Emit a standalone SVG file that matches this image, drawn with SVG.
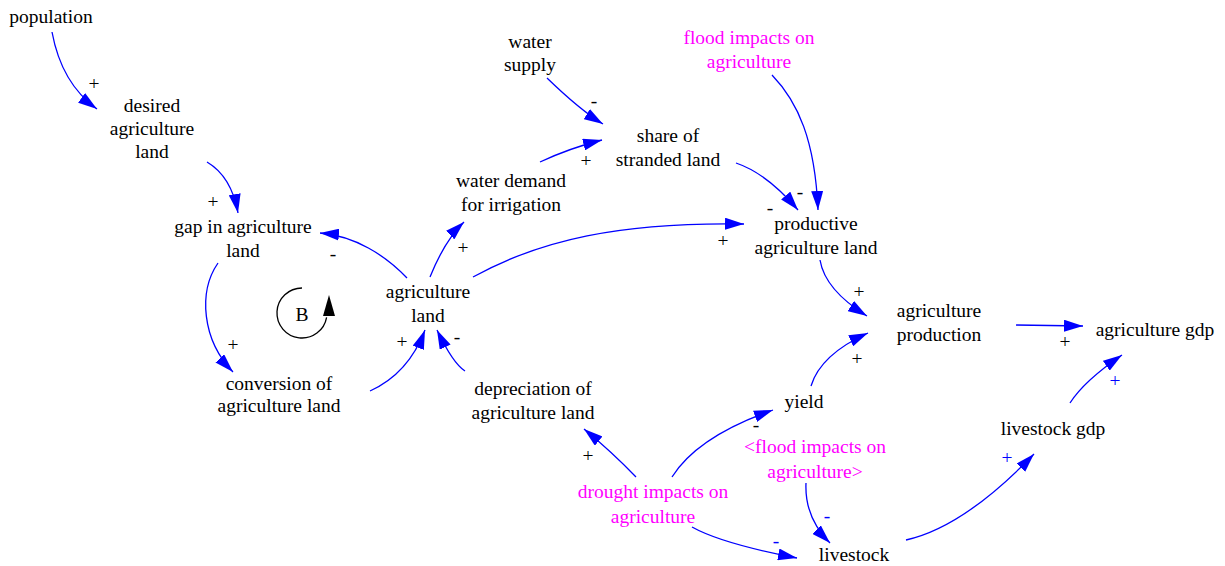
<svg xmlns="http://www.w3.org/2000/svg" width="1225" height="566" viewBox="0 0 1225 566" font-family="Liberation Serif, Times New Roman, serif">
<style>
text{font-family:'Liberation Serif','Times New Roman',Times,serif}
.t{font-size:19.5px;text-anchor:middle;fill:#000}
.m{fill:#ff00ff}
.b{fill:#0000ff}
.c{fill:none;stroke:#0000ff;stroke-width:1.3;marker-end:url(#ah)}
</style>
<defs>
<marker id="ah" markerWidth="20" markerHeight="12" refX="19" refY="6" orient="auto" markerUnits="userSpaceOnUse">
<path d="M0,0 L19,6 L0,12 z" fill="#0000ff"/>
</marker>
</defs>
<rect width="1225" height="566" fill="#fff"/>
<g id="connectors">
<path class="c" d="M52,32 Q61.5,83.5 97,109"/>
<path class="c" d="M207,162 Q231.5,176.5 238,213"/>
<path class="c" d="M218,263 C198,292 202,340 233,372"/>
<path class="c" d="M407,278 C385,255 355,236 320,233"/>
<path class="c" d="M430,277 Q445,240 464,222"/>
<path class="c" d="M473,277 C540,240 620,222 744,224"/>
<path class="c" d="M540,162 Q570,148 602,140"/>
<path class="c" d="M547,78 Q580,110 603,124"/>
<path class="c" d="M736,163 Q767,173.5 798,210"/>
<path class="c" d="M772,75 C798,102 815,140 818,210"/>
<path class="c" d="M820,260 Q825,290 867,316"/>
<path class="c" d="M811,386 Q820.5,354.5 868,333"/>
<path class="c" d="M1016,325 L1083,326"/>
<path class="c" d="M1070,403 Q1084,381 1122,355"/>
<path class="c" d="M906,540 Q964,527 1034,454"/>
<path class="c" d="M692,527 Q721.5,543.5 797,558"/>
<path class="c" d="M806,483 C805,505 812,525 830,543"/>
<path class="c" d="M636,477 Q612,452 584,429"/>
<path class="c" d="M672,477 Q697.5,436.5 773,410"/>
<path class="c" d="M370,391 Q408.5,373.5 425,330"/>
<path class="c" d="M465,371 Q453,363.5 437,330"/>
<g class="t">
<text x="94" y="90">+</text>
<text x="213" y="208">+</text>
<text x="233" y="351">+</text>
<text x="333" y="260">-</text>
<text x="463" y="254">+</text>
<text x="723" y="247">+</text>
<text x="586" y="167">+</text>
<text x="594" y="107">-</text>
<text x="770" y="214">-</text>
<text x="800" y="198">-</text>
<text x="859" y="298">+</text>
<text x="857" y="365">+</text>
<text x="1065" y="348">+</text>
<text x="1115" y="387" class="b">+</text>
<text x="1007" y="464" class="b">+</text>
<text x="776" y="547" class="b">-</text>
<text x="827" y="522" class="b">-</text>
<text x="588" y="462">+</text>
<text x="756" y="431">-</text>
<text x="402" y="348">+</text>
<text x="457" y="343">-</text>
</g>
</g>
<g id="loop-B">
<path d="M302,288 A25,25 0 1 0 326.6,317.3" fill="none" stroke="#000" stroke-width="1.3"/>
<path d="M329,295 L335,316 L323,316 z" fill="#000"/>
<text class="t" x="302" y="321">B</text>
</g>
<g id="population"><text class="t" x="51" y="23">population</text></g>
<g id="desired-agriculture-land"><text class="t" x="152" y="112">desired<tspan x="152" dy="23">agriculture</tspan><tspan x="152" dy="23">land</tspan></text></g>
<g id="gap-in-agriculture-land"><text class="t" x="243" y="233">gap in agriculture<tspan x="243" dy="24">land</tspan></text></g>
<g id="agriculture-land"><text class="t" x="428" y="298">agriculture<tspan x="428" dy="24">land</tspan></text></g>
<g id="conversion-of-agriculture-land"><text class="t" x="279" y="390">conversion of<tspan x="279" dy="22">agriculture land</tspan></text></g>
<g id="water-demand-for-irrigation"><text class="t" x="511" y="187">water demand<tspan x="511" dy="24">for irrigation</tspan></text></g>
<g id="water-supply"><text class="t" x="530" y="48">water<tspan x="530" dy="23">supply</tspan></text></g>
<g id="share-of-stranded-land"><text class="t" x="668" y="142">share of<tspan x="668" dy="24">stranded land</tspan></text></g>
<g id="flood-impacts-on-agriculture"><text class="t m" x="749" y="44">flood impacts on<tspan x="749" dy="24">agriculture</tspan></text></g>
<g id="productive-agriculture-land"><text class="t" x="816" y="230">productive<tspan x="816" dy="24">agriculture land</tspan></text></g>
<g id="agriculture-production"><text class="t" x="939" y="317">agriculture<tspan x="939" dy="24">production</tspan></text></g>
<g id="agriculture-gdp"><text class="t" x="1155" y="336">agriculture gdp</text></g>
<g id="depreciation-of-agriculture-land"><text class="t" x="533" y="395">depreciation of<tspan x="533" dy="24">agriculture land</tspan></text></g>
<g id="yield"><text class="t" x="804" y="408">yield</text></g>
<g id="flood-impacts-on-agriculture-shadow"><text class="t m" x="815" y="453">&lt;flood impacts on<tspan x="815" dy="25">agriculture&gt;</tspan></text></g>
<g id="drought-impacts-on-agriculture"><text class="t m" x="653" y="498">drought impacts on<tspan x="653" dy="25">agriculture</tspan></text></g>
<g id="livestock"><text class="t" x="854" y="561">livestock</text></g>
<g id="livestock-gdp"><text class="t" x="1053" y="435">livestock gdp</text></g>
</svg>
